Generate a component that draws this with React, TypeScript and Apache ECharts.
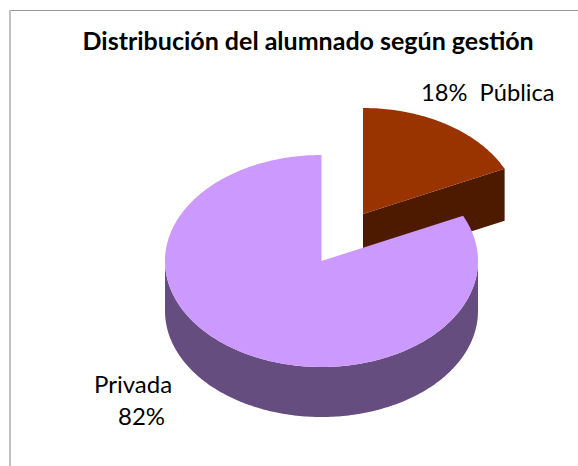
import React, { useEffect, useRef } from "react";
import * as echarts from "echarts";

const categories = ["Pública", "Privada"];
const shares = [18, 82];
const titleText = "Distribución del alumnado según gestión";
const topColors = ["#993300", "#CC99FF"];
const sideColors = ["#4D1A00", "#664D80"];

const CENTER = [321.5, 261];
const RX = 156.5;
const RY = 106;
const DEPTH = 50;
const PULL = [41.5, -47];
const FONT = "Lato, Carlito, Calibri, sans-serif";

const pt = (cx: number, cy: number, a: number) => [
  cx + RX * Math.sin(a),
  cy - RY * Math.cos(a),
];

function arcPts(cx: number, cy: number, a0: number, a1: number) {
  const n = Math.max(4, Math.ceil(Math.abs(a1 - a0) * 60));
  const out: number[][] = [];
  for (let i = 0; i <= n; i++) out.push(pt(cx, cy, a0 + ((a1 - a0) * i) / n));
  return out;
}

export default function App() {
  const ref = useRef<HTMLDivElement>(null);
  useEffect(() => {
    document.body.style.margin = "0";
    const chart = echarts.init(ref.current!, undefined, { renderer: "svg" });
    const total = shares.reduce((a, b) => a + b, 0);
    const renderItem = (_p: any, api: any) => {
      const idx = _p.dataIndex;
      const v = api.value(0);
      const before = shares.slice(0, idx).reduce((a, b) => a + b, 0);
      const a0 = (before / total) * 2 * Math.PI;
      const a1 = ((before + v) / total) * 2 * Math.PI;
      const pulled = idx === 0;
      const cx = CENTER[0] + (pulled ? PULL[0] : 0);
      const cy = CENTER[1] + (pulled ? PULL[1] : 0);
      const children: any[] = [];
      if (pulled) {
        const e = pt(cx, cy, a1);
        children.push({
          type: "polygon",
          shape: { points: [[cx, cy], e, [e[0], e[1] + DEPTH + 2], [cx, cy + DEPTH + 2]] },
          style: { fill: sideColors[idx] },
        });
      } else {
        const s = Math.max(a0, Math.PI / 2);
        const e = Math.min(a1, (3 * Math.PI) / 2);
        const top = arcPts(cx, cy, s, e);
        const bottom = arcPts(cx, cy + DEPTH, e, s);
        children.push({
          type: "polygon",
          shape: { points: [...top, ...bottom] },
          style: { fill: sideColors[idx] },
        });
      }
      children.push({
        type: "polygon",
        shape: { points: [[cx, cy], ...arcPts(cx, cy, a0, a1)] },
        style: { fill: topColors[idx] },
      });
      return { type: "group", children };
    };
    chart.setOption({
      animation: false,
      title: {
        text: titleText,
        left: 82.5,
        top: 27,
        padding: 0,
        textStyle: { fontFamily: FONT, fontSize: 25, fontWeight: "bold", color: "#000" },
      },
      graphic: [
        { type: "rect", shape: { x: 9, y: 10, width: 569, height: 1 }, style: { fill: "#999999" } },
        { type: "rect", shape: { x: 9, y: 10, width: 2, height: 456 }, style: { fill: "#C0C0C0" } },
        {
          type: "text",
          x: 421,
          y: 80,
          style: { text: `${shares[0]}%  ${categories[0]}`, font: `23.7px ${FONT}`, fill: "#000" },
        },
        {
          type: "text",
          x: 94,
          y: 371,
          style: { text: categories[1], font: `24px ${FONT}`, fill: "#000" },
        },
        {
          type: "text",
          x: 118,
          y: 403,
          style: { text: `${shares[1]}%`, font: `24px ${FONT}`, fill: "#000" },
        },
      ],
      series: [
        {
          type: "custom",
          coordinateSystem: "none",
          renderItem,
          data: shares.map((v, i) => ({ name: categories[i], value: [v] })),
        },
      ],
    });
    return () => chart.dispose();
  }, []);
  return <div ref={ref} style={{ width: 578, height: 466 }} />;
}
